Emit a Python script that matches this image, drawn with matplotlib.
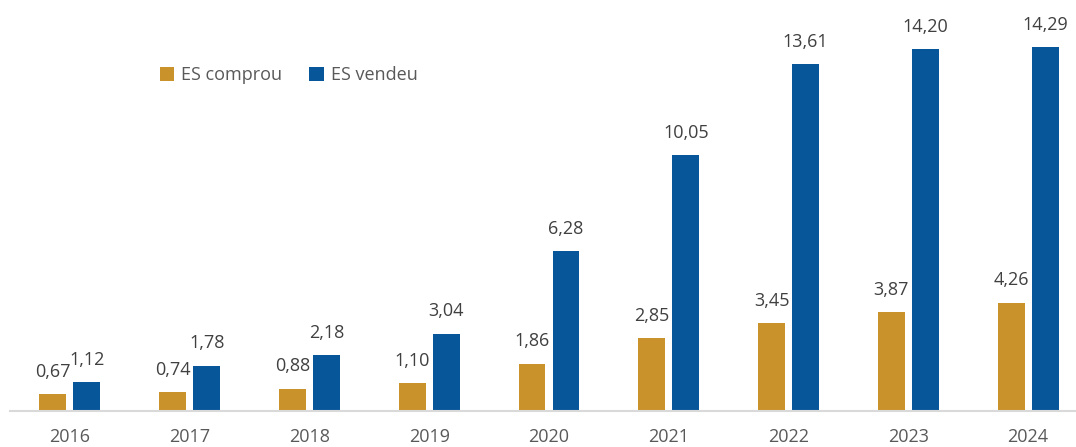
import matplotlib.pyplot as plt
import numpy as np

# Years and values from the reference chart
years = ['2016', '2017', '2018', '2019', '2020', '2021', '2022', '2023', '2024']
comprou = [0.67, 0.74, 0.88, 1.10, 1.86, 2.85, 3.45, 3.87, 4.26]
vendeu = [1.12, 1.78, 2.18, 3.04, 6.28, 10.05, 13.61, 14.20, 14.29]

orange = '#C9922A'
blue = '#08569A'
label_color = '#404040'

plt.rcParams['font.family'] = ['Open Sans', 'DejaVu Sans']

fig = plt.figure(figsize=(10.76, 4.47), dpi=100)
ax = fig.add_axes([10 / 1076, 36 / 447, 1066 / 1076, 411 / 447])

x = np.arange(len(years))
w = 0.225
off = 0.142
b1 = ax.bar(x - off, comprou, w, color=orange, label='ES comprou')
b2 = ax.bar(x + off, vendeu, w, color=blue, label='ES vendeu')


def fmt(v):
    return f'{v:.2f}'.replace('.', ',')


for bars, vals in ((b1, comprou), (b2, vendeu)):
    for bar, v in zip(bars, vals):
        ax.annotate(fmt(v), (bar.get_x() + bar.get_width() / 2, v),
                    xytext=(0, 9.5), textcoords='offset points',
                    ha='center', va='bottom', fontsize=13, color=label_color)

ax.set_xlim(-0.5, 8.4)
ax.set_ylim(0, 16.14)
ax.set_xticks(x)
ax.set_xticklabels(years, fontsize=13, color='#595959')
ax.tick_params(axis='x', length=0, pad=12.5)
ax.set_yticks([])
for s in ('top', 'right', 'left'):
    ax.spines[s].set_visible(False)
ax.spines['bottom'].set_color('#D9D9D9')
ax.spines['bottom'].set_linewidth(1.5)

ax.legend(loc='upper left', bbox_to_anchor=(0.125, 0.878), ncol=2, frameon=False,
          fontsize=13, labelcolor='#595959', handlelength=0.8, handleheight=0.8,
          handletextpad=0.4, columnspacing=1.5)

fig.savefig('out.png', dpi=100)
